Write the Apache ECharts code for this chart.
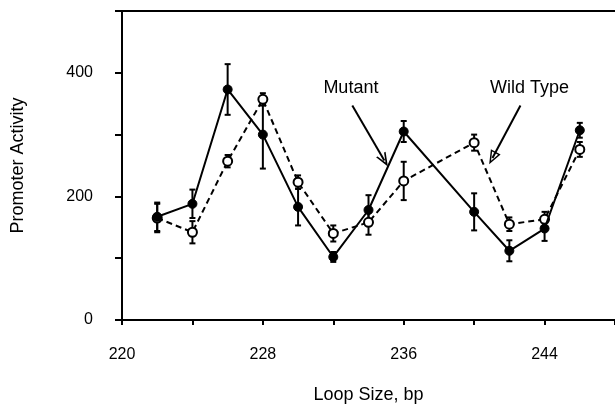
<!DOCTYPE html>
<html>
<head>
<meta charset="utf-8">
<script src="https://cdn.jsdelivr.net/npm/echarts@6/dist/echarts.min.js"></script>
<style>
  html, body { margin: 0; padding: 0; background: #fff; }
  #chart { width: 615px; height: 404px; }
</style>
</head>
<body>
<div id="chart"></div>
<script>
// loop sizes (bp) where activity was measured; 238 is missing in the figure
var loopSizes = [222, 224, 226, 228, 230, 232, 234, 236, 240, 242, 244, 246];
var mutant = [167, 188, 373, 300, 183, 102, 178, 305, 175, 112, 148, 307];
var mutantErr = [23, 23, 41, 55, 30, 8, 24, 17, 30, 17, 20, 12];
var wildType = [165, 142, 257, 357, 223, 140, 158, 225, 287, 155, 163, 276];
var wildTypeErr = [23, 18, 10, 10, 11, 13, 20, 31, 13, 11, 12, 12];
var xTickLabels = [220, 228, 236, 244];
var yTickLabels = [0, 200, 400];
var yTop = 500;

var FONT = "'Liberation Sans', Arial, sans-serif";

var chartDom = document.getElementById("chart");
var myChart = echarts.init(chartDom);

function pairs(ys) {
  return loopSizes.map(function (x, i) { return [x, ys[i]]; });
}
function triples(ys, errs) {
  return loopSizes.map(function (x, i) { return [x, ys[i], errs[i]]; });
}

function renderErrorBar(params, api) {
  var x = api.value(0);
  var y = api.value(1);
  var e = api.value(2);
  var top = api.coord([x, y + e]);
  var bot = api.coord([x, y - e]);
  var cap = 3;
  var style = { stroke: "#000", lineWidth: 2 };
  return {
    type: "group",
    children: [
      { type: "line", shape: { x1: top[0], y1: top[1], x2: bot[0], y2: bot[1] }, style: style },
      { type: "line", shape: { x1: top[0] - cap, y1: top[1], x2: top[0] + cap, y2: top[1] }, style: style },
      { type: "line", shape: { x1: bot[0] - cap, y1: bot[1], x2: bot[0] + cap, y2: bot[1] }, style: style }
    ]
  };
}

var vArrow = "path://M0,12 L5,0 L10,12 L8.4,12 L5,4 L1.6,12 Z";
var openTriangle = "path://M5,0 L10,12 L0,12 Z M5,3.5 L1.9,10.8 L8.1,10.8 Z";

var option = {
  animation: false,
  backgroundColor: "#fff",
  textStyle: { fontFamily: FONT, color: "#000" },
  grid: {
    left: 122,
    right: 0,
    top: 11,
    bottom: 84,
    outerBoundsMode: "none",
    containLabel: false
  },
  xAxis: {
    type: "value",
    min: 220,
    max: 248,
    interval: 4,
    name: "Loop Size, bp",
    nameLocation: "middle",
    nameGap: 66,
    nameTextStyle: { fontSize: 18, color: "#000", fontFamily: FONT },
    axisLine: { onZero: false, lineStyle: { color: "#000", width: 2 } },
    axisTick: { show: true, length: 5, lineStyle: { color: "#000", width: 2 } },
    splitLine: { show: false },
    axisLabel: {
      margin: 27,
      fontSize: 16,
      color: "#000",
      fontFamily: FONT,
      formatter: function (v) {
        return xTickLabels.indexOf(v) >= 0 ? String(v) : "";
      }
    }
  },
  yAxis: {
    type: "value",
    min: 0,
    max: 500,
    interval: 100,
    name: "Promoter Activity",
    nameLocation: "middle",
    nameGap: 95,
    nameTextStyle: { fontSize: 18, color: "#000", fontFamily: FONT },
    axisLine: { show: true, lineStyle: { color: "#000", width: 2 } },
    axisTick: { show: true, length: 7, lineStyle: { color: "#000", width: 2 } },
    splitLine: { show: false },
    axisLabel: {
      margin: 29,
      fontSize: 16,
      color: "#000",
      fontFamily: FONT,
      formatter: function (v) {
        return yTickLabels.indexOf(v) >= 0 ? String(v) : "";
      }
    }
  },
  series: [
    {
      name: "Mutant error",
      type: "custom",
      renderItem: renderErrorBar,
      data: triples(mutant, mutantErr),
      z: 2,
      silent: true
    },
    {
      name: "Wild Type error",
      type: "custom",
      renderItem: renderErrorBar,
      data: triples(wildType, wildTypeErr),
      z: 2,
      silent: true
    },
    {
      name: "Wild Type",
      type: "line",
      data: pairs(wildType),
      symbol: "circle",
      symbolSize: 9,
      showSymbol: true,
      lineStyle: { color: "#000", width: 2, type: [6, 4] },
      itemStyle: { color: "#fff", borderColor: "#000", borderWidth: 2 },
      z: 3,
      markLine: {
        silent: true,
        symbol: ["none", openTriangle],
        symbolSize: [11, 14],
        label: { show: false },
        lineStyle: { color: "#000", width: 2, type: "solid" },
        itemStyle: { color: "#000" },
        data: [[{ coord: [242.63, 347] }, { coord: [241.04, 262] }]]
      },
      markPoint: {
        silent: true,
        symbol: "circle",
        symbolSize: 0,
        label: { show: true, position: "inside", color: "#000", fontSize: 18, fontFamily: FONT, formatter: "Wild Type" },
        data: [{ coord: [243.14, 376] }]
      }
    },
    {
      name: "Mutant",
      type: "line",
      data: pairs(mutant),
      symbol: "circle",
      symbolSize: 9,
      showSymbol: true,
      lineStyle: { color: "#000", width: 2 },
      itemStyle: { color: "#000", borderColor: "#000" },
      z: 4,
      markLine: {
        silent: true,
        symbol: ["none", vArrow],
        symbolSize: [11, 14],
        label: { show: false },
        lineStyle: { color: "#000", width: 2, type: "solid" },
        itemStyle: { color: "#000" },
        data: [
          [{ coord: [233.08, 347] }, { coord: [234.9, 258] }]
        ]
      },
      markPoint: {
        silent: true,
        symbol: "circle",
        symbolSize: 0,
        label: { show: true, position: "inside", color: "#000", fontSize: 18, fontFamily: FONT, formatter: "Mutant" },
        data: [{ coord: [233.0, 375] }]
      }
    },
    {
      // top frame line of the plot box
      name: "frame",
      type: "line",
      data: [],
      silent: true,
      markLine: {
        silent: true,
        symbol: ["none", "none"],
        label: { show: false },
        lineStyle: { color: "#000", width: 2, type: "solid" },
        data: [{ yAxis: yTop }]
      }
    }
  ]
};

myChart.setOption(option);
window.addEventListener("resize", myChart.resize);
</script>
</body>
</html>
